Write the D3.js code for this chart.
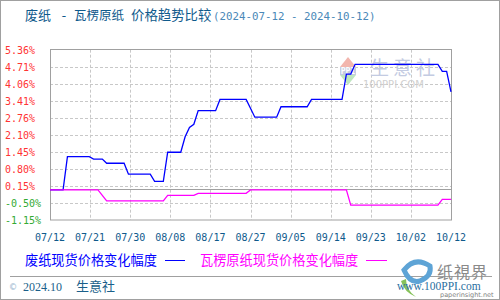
<!DOCTYPE html>
<html lang="zh">
<head>
<meta charset="utf-8">
<title>废纸 - 瓦楞原纸 价格趋势比较</title>
<script src="https://d3js.org/d3.v7.min.js"></script>
<style>
  body { margin: 0; background: #fff; }
  svg { display: block; }
</style>
</head>
<body>
<script>
// waste paper (blue) - change in spot price, %
var wasteDates = ["2024-07-12","2024-07-15","2024-07-16","2024-07-21","2024-07-22","2024-07-24","2024-07-25",
  "2024-07-29","2024-07-30","2024-08-04","2024-08-05","2024-08-07","2024-08-08","2024-08-11","2024-08-12",
  "2024-08-13","2024-08-14","2024-08-15","2024-08-19","2024-08-20","2024-08-26","2024-08-28","2024-09-02",
  "2024-09-03","2024-09-09","2024-09-10","2024-09-17","2024-09-18","2024-09-19","2024-09-20","2024-10-09",
  "2024-10-10","2024-10-11","2024-10-12"];
var wasteValues = [0,0,1.27,1.27,1.18,1.18,1.02,
  1.02,0.60,0.60,0.33,0.33,1.44,1.44,2.03,
  2.39,2.51,3.03,3.03,3.46,3.46,2.78,2.78,
  3.18,3.18,3.46,3.46,4.43,4.43,4.80,4.80,
  4.53,4.53,3.75];

// corrugated base paper (magenta)
var corrDates = ["2024-07-12","2024-07-23","2024-07-25","2024-08-07","2024-08-08","2024-08-14","2024-08-15",
  "2024-08-26","2024-08-27","2024-09-18","2024-09-19","2024-10-09","2024-10-10","2024-10-12"];
var corrValues = [0,0,-0.42,-0.42,-0.21,-0.21,-0.13,
  -0.13,0,0,-0.58,-0.58,-0.36,-0.36];

var yTicks = [5.36,4.71,4.06,3.41,2.76,2.10,1.45,0.80,0.15,-0.50,-1.15];
var xTickLabels = ["07/12","07/21","07/30","08/08","08/17","08/27","09/05","09/14","09/23","10/02","10/12"];

var W = 500, H = 300;
var pl = 50, pr = 451, pt = 49.7, pb = 220;
var cjk = "'Noto Sans CJK SC', sans-serif";
var mono = "'DejaVu Sans Mono', monospace";

var parse = d3.timeParse("%Y-%m-%d");
var start = parse("2024-07-12"), end = parse("2024-10-12");

var svg = d3.select("body").append("svg")
  .attr("width", W).attr("height", H);

svg.append("rect").attr("x", 0.5).attr("y", 0.5).attr("width", W - 1).attr("height", H - 1)
  .attr("fill", "#fff").attr("stroke", "#a0a0a0");

var x = d3.scaleTime().domain([start, end]).range([pl, pr]);
var y = d3.scaleLinear().domain([-1.15, 5.36]).range([pb, pt]);

// ticks evenly spaced over the period
var step = (end - start) / (xTickLabels.length - 1);
var xTickDates = xTickLabels.map(function(d, i) { return new Date(+start + i * step); });

// grid
var grid = svg.append("g");
grid.selectAll("line.h").data(yTicks.slice(1, -1)).enter().append("line")
  .attr("x1", pl).attr("x2", pr)
  .attr("y1", function(d) { return Math.round(y(d)) + 0.5; })
  .attr("y2", function(d) { return Math.round(y(d)) + 0.5; })
  .attr("stroke", "#c8c8c8").attr("stroke-dasharray", "3,2");
grid.selectAll("line.v").data(xTickDates.slice(1, -1)).enter().append("line")
  .attr("y1", pt).attr("y2", pb)
  .attr("x1", function(d) { return Math.round(x(d)) + 0.5; })
  .attr("x2", function(d) { return Math.round(x(d)) + 0.5; })
  .attr("stroke", "#c8c8c8").attr("stroke-dasharray", "3,2");
// zero line
grid.append("line").attr("x1", pl).attr("x2", pr)
  .attr("y1", Math.round(y(0)) - 0.5).attr("y2", Math.round(y(0)) - 0.5)
  .attr("stroke", "#a0a0a0");

// watermark in plot
var wm = svg.append("g");
wm.append("path").attr("d", "M340,67 L348,57 L356,67 Z").attr("fill", "#f2b6ae");
wm.append("rect").attr("x", 340).attr("y", 67).attr("width", 16).attr("height", 8).attr("fill", "#c4cce0");
wm.append("text").attr("x", 348).attr("y", 74).attr("text-anchor", "middle")
  .attr("font-family", mono).attr("font-size", 8).attr("font-weight", "bold").attr("fill", "#fff").text("PPI");
wm.append("path").attr("d", "M340,75 L356,75 L348,85 Z").attr("fill", "#bfe6c0");
wm.append("text").attr("x", 370).attr("y", 75).attr("font-family", cjk).attr("font-size", 19)
  .attr("fill", "#c3cbe2").attr("letter-spacing", 4).text("生意社");
wm.append("text").attr("x", 363).attr("y", 88).attr("font-family", "'DejaVu Sans', sans-serif").attr("font-size", 10)
  .attr("fill", "#cfcfcf").text("100PPI.COM");

// plot frame
svg.append("rect").attr("x", pl + 0.5).attr("y", Math.round(pt) - 0.5)
  .attr("width", pr - pl).attr("height", pb - Math.round(pt) + 0.5)
  .attr("fill", "none").attr("stroke", "#a0a0a0");

// lines
var line = d3.line()
  .x(function(d) { return x(d[0]); })
  .y(function(d) { return y(d[1]); });

var corr = corrDates.map(function(d, i) { return [parse(d), corrValues[i]]; });
var waste = wasteDates.map(function(d, i) { return [parse(d), wasteValues[i]]; });

svg.append("path").datum(waste).attr("d", line)
  .attr("fill", "none").attr("stroke", "#0000ff").attr("stroke-width", 1.3);
svg.append("path").datum(corr).attr("d", line)
  .attr("fill", "none").attr("stroke", "#ff00ff").attr("stroke-width", 1.3);

// y labels (left aligned)
svg.append("g").selectAll("text").data(yTicks).enter().append("text")
  .attr("x", 5).attr("y", function(d) { return y(d) + 4; })
  .attr("font-family", mono).attr("font-size", 10)
  .attr("fill", function(d) { return d < 0 ? "#33aa33" : "#ff3333"; })
  .text(function(d) { return d.toFixed(2) + "%"; });

// x labels
svg.append("g").selectAll("text").data(xTickDates).enter().append("text")
  .attr("x", function(d) { return x(d); }).attr("y", 241)
  .attr("text-anchor", "middle")
  .attr("font-family", mono).attr("font-size", 10)
  .attr("fill", "#0f5a8c")
  .text(function(d, i) { return xTickLabels[i]; });

// title
function txt(xp, yp, s, size, color, fam) {
  return svg.append("text").attr("x", xp).attr("y", yp)
    .attr("font-family", fam || cjk).attr("font-size", size).attr("fill", color).text(s);
}
txt(25, 20, "废纸", 13, "#0f5a8c");
txt(60, 20, "-", 13, "#0f5a8c", mono);
txt(74, 20, "瓦楞原纸", 12.5, "#0f5a8c");
txt(131, 20, "价格趋势比较", 13.4, "#0f5a8c");
txt(213, 19.5, "(2024-07-12 - 2024-10-12)", 10.8, "#4a88b8", mono);

// legend
txt(25, 265, "废纸现货价格变化幅度", 13.2, "#0000ff");
svg.append("line").attr("x1", 165).attr("x2", 185).attr("y1", 260.5).attr("y2", 260.5).attr("stroke", "#0000ff");
txt(200, 265, "瓦楞原纸现货价格变化幅度", 13.2, "#ff00ff");
svg.append("line").attr("x1", 366).attr("x2", 387).attr("y1", 260.5).attr("y2", 260.5).attr("stroke", "#ff00ff");

// footer
svg.append("line").attr("x1", 10).attr("x2", 492).attr("y1", 276.5).attr("y2", 276.5).attr("stroke", "#a0a0a0");
txt(10, 290, "©", 10, "#9ab8d0", mono);
txt(23, 291, "2024.10", 12, "#1a5f8a", "'Liberation Serif', serif");
txt(76, 291, "生意社", 13, "#1a5f8a");

// footer logo
var lg = svg.append("g");
lg.append("path").attr("d", "M404,270 Q415,256 430,266 Q432,276 420,281 Q410,284 404,270 Z")
  .attr("fill", "none").attr("stroke", "#5ea4d6").attr("stroke-width", 5);
lg.append("path").attr("d", "M401,281 Q404,292 416,297 Q406,290 406,279 Z").attr("fill", "#86c25a");
txt(437, 278, "纸視界", 16, "#8a8a8a", "'Noto Sans CJK TC', sans-serif").attr("letter-spacing", 1);
txt(397, 290, "www.100PPI.com", 11.5, "#2a6fa0", "'Liberation Serif', serif");
txt(440, 297, "paperinsight.net", 6.5, "#808080", "'DejaVu Sans', sans-serif");
</script>
</body>
</html>
